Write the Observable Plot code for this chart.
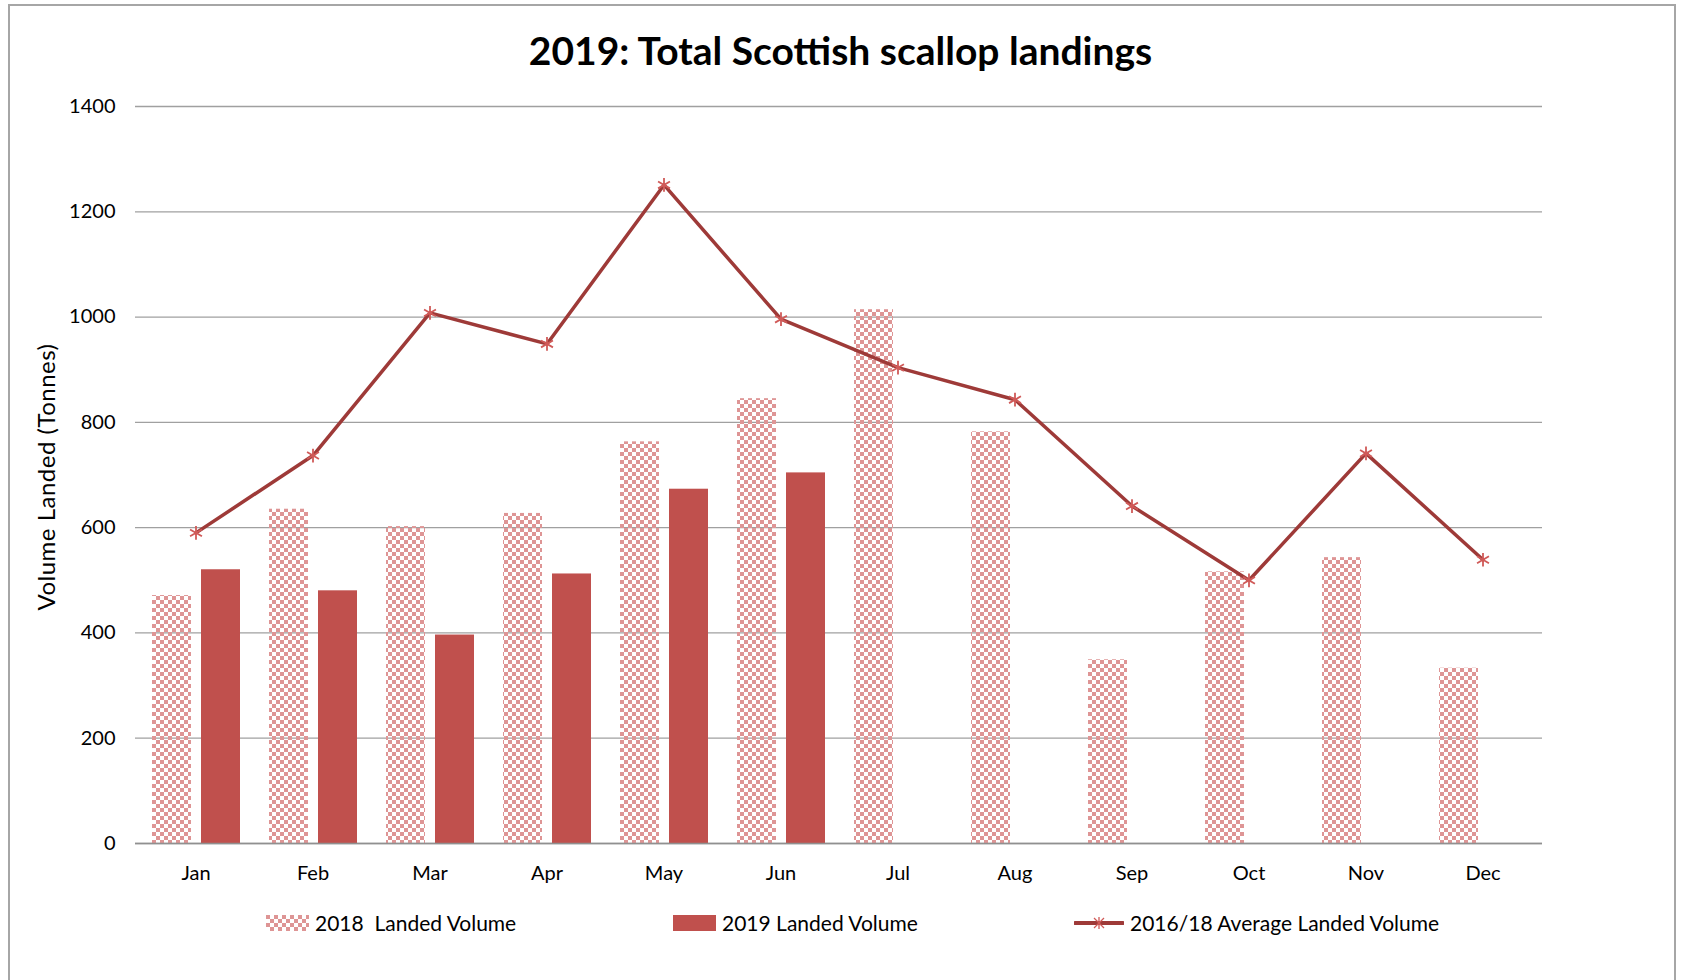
<!DOCTYPE html>
<html><head><meta charset="utf-8">
<script src="https://cdn.jsdelivr.net/npm/d3@7"></script>
<script src="https://cdn.jsdelivr.net/npm/@observablehq/plot@0.6"></script>
<style>
body{margin:0;background:#fff;font-family:Lato,"Open Sans",sans-serif;}
#wrap{position:relative;width:1681px;height:980px;overflow:hidden;background:#fff}
#frame{position:absolute;left:8px;top:4px;width:1664px;height:1000px;border:2px solid #a6a6a6;}
#title{position:absolute;left:0;width:1681px;top:25px;text-align:center;font-weight:bold;font-size:39px;color:#000;line-height:50px}
#chart{position:absolute;left:0;top:80px}
#ylabel{position:absolute;left:45px;top:477px;transform:translate(-50%,-50%) rotate(-90deg);font-size:24px;white-space:nowrap;color:#000;letter-spacing:0.5px}
.leg{position:absolute;top:910px;font-size:21px;line-height:26px;color:#000;display:flex;align-items:center;white-space:nowrap}
.leg svg{margin-right:6px}
</style>
</head><body>
<div id="wrap">
<div id="frame"></div>
<div id="title">2019: Total Scottish scallop landings</div>
<div id="ylabel">Volume Landed (Tonnes)</div>
<div id="chart"></div>
<div class="leg" style="left:266px"><svg width="43" height="16"><defs><pattern id="checkL" width="8" height="8" patternUnits="userSpaceOnUse"><rect x="0" y="0" width="4" height="4" fill="#de9595"/><rect x="4" y="4" width="4" height="4" fill="#de9595"/></pattern></defs><rect width="43" height="16" fill="url(#checkL)"/></svg>2018&nbsp; Landed Volume</div>
<div class="leg" style="left:673px"><svg width="43" height="16"><rect width="43" height="16" fill="#c0504d"/></svg>2019 Landed Volume</div>
<div class="leg" style="left:1074px"><svg width="50" height="16"><line x1="1" y1="8" x2="49" y2="8" stroke="#9e3a38" stroke-width="4" stroke-linecap="round"/><g stroke="#d05a58" stroke-width="1.3"><line x1="20" y1="3" x2="30" y2="13"/><line x1="30" y1="3" x2="20" y2="13"/><line x1="25" y1="2" x2="25" y2="14"/></g></svg>2016/18 Average Landed Volume</div>
</div>
<script>
const months = ["Jan","Feb","Mar","Apr","May","Jun","Jul","Aug","Sep","Oct","Nov","Dec"];
const vol2018 = [471, 635, 602, 627, 763, 845, 1014, 782, 349, 516, 543, 333];
const vol2019 = [520, 480, 396, 512, 673, 704, null, null, null, null, null, null];
const avg1618 = [590, 737, 1008, 949, 1251, 996, 904, 843, 641, 500, 741, 539];
const yTicks = [0, 200, 400, 600, 800, 1000, 1200, 1400];

const d18 = months.map((m, i) => ({month: m, v: vol2018[i]}));
const d19 = months.map((m, i) => ({month: m, v: vol2019[i]})).filter(d => d.v != null);
const dAvg = months.map((m, i) => ({month: m, v: avg1618[i]}));

const plot = Plot.plot({
  width: 1681,
  height: 815,
  marginLeft: 135,
  marginRight: 139,
  marginTop: 26,
  marginBottom: 52,
  style: {fontFamily: "Lato, 'Open Sans', sans-serif", fontSize: "20px", color: "#000", background: "transparent"},
  x: {domain: months, padding: 0, label: null},
  y: {domain: [0, 1400], label: null},
  marks: [
    Plot.ruleY(yTicks, {stroke: "#a0a0a0", strokeWidth: 1.3}),
    Plot.barY(d18, {x: "month", y: "v", fill: "url(#checker)", insetLeft: 15, insetRight: 63}),
    Plot.barY(d19, {x: "month", y: "v", fill: "#c0504d", insetLeft: 64, insetRight: 14}),
    Plot.ruleY([0], {stroke: "#909090", strokeWidth: 1.5}),
    Plot.lineY(dAvg, {x: "month", y: "v", stroke: "#9e3a38", strokeWidth: 3.5, strokeLinejoin: "round"}),
    Plot.dot(dAvg, {x: "month", y: "v", symbol: "asterisk", r: 6.5, stroke: "#d05a58", strokeWidth: 1.8}),
    Plot.axisY(yTicks, {tickSize: 0, tickPadding: 20, fontSize: 20, label: null, tickFormat: d => String(d)}),
    Plot.axisX({tickSize: 0, tickPadding: 22, fontSize: 20, label: null})
  ]
});
const defs = d3.select(plot).insert("defs", ":first-child");
const pat = defs.append("pattern").attr("id", "checker").attr("width", 8).attr("height", 8).attr("patternUnits", "userSpaceOnUse");
pat.append("rect").attr("x", 0).attr("y", 0).attr("width", 4).attr("height", 4).attr("fill", "#de9595");
pat.append("rect").attr("x", 4).attr("y", 4).attr("width", 4).attr("height", 4).attr("fill", "#de9595");
document.getElementById("chart").appendChild(plot);
</script>
</body></html>
